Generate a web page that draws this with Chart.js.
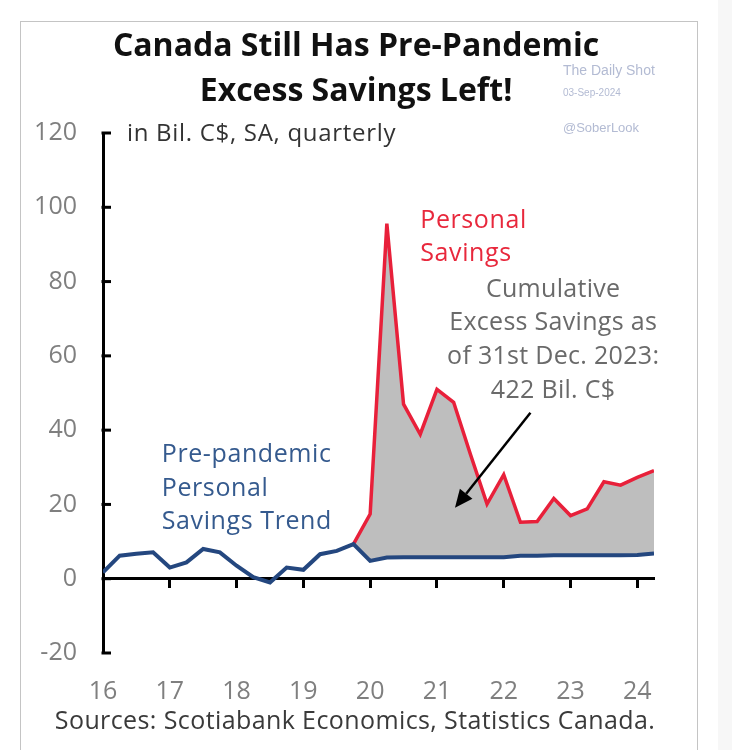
<!DOCTYPE html>
<html><head><meta charset="utf-8">
<script src="https://cdn.jsdelivr.net/npm/chart.js@4.4.1/dist/chart.umd.min.js"></script>
<style>
html,body{margin:0;padding:0;background:#fff;width:732px;height:750px;overflow:hidden;}
#side{position:absolute;left:718px;top:0;width:14px;height:750px;background:#f7f7f7;}
#frame{position:absolute;left:20px;top:21px;width:678px;height:760px;border:1.5px solid #c4c4c4;box-sizing:border-box;}
#wrap{position:absolute;left:0;top:0;width:732px;height:750px;}
</style></head><body>
<div id="side"></div><div id="frame"></div>
<div id="wrap"><canvas id="c" width="732" height="750"></canvas></div>
<script>
// ---- data (C$ billions, SA, quarterly) ----
const quarters = ['2016Q1','2016Q2','2016Q3','2016Q4','2017Q1','2017Q2','2017Q3','2017Q4',
  '2018Q1','2018Q2','2018Q3','2018Q4','2019Q1','2019Q2','2019Q3','2019Q4',
  '2020Q1','2020Q2','2020Q3','2020Q4','2021Q1','2021Q2','2021Q3','2021Q4',
  '2022Q1','2022Q2','2022Q3','2022Q4','2023Q1','2023Q2','2023Q3','2023Q4',
  '2024Q1','2024Q2'];
const prePandemicTrend = [1.7, 6.2, 6.7, 7.1, 3.0, 4.4, 8.0, 7.1,
  3.5, 0.4, -1.0, 3.0, 2.4, 6.6, 7.5, 9.3,
  4.8, 5.7, 5.8, 5.8, 5.8, 5.8, 5.8, 5.8,
  5.8, 6.2, 6.2, 6.3, 6.3, 6.3, 6.3, 6.3,
  6.4, 6.8];
const personalSavings = [null, null, null, null, null, null, null, null,
  null, null, null, null, null, null, null, 9.3,
  17.4, 95.6, 47.0, 38.9, 51.0, 47.5, 33.6, 20.1,
  28.0, 15.2, 15.4, 21.6, 17.0, 18.8, 26.1, 25.2,
  27.3, 29.1];
const yearTicks = [2016, 2017, 2018, 2019, 2020, 2021, 2022, 2023, 2024];
const yearLabels = ['16', '17', '18', '19', '20', '21', '22', '23', '24'];
const valueTicks = [-20, 0, 20, 40, 60, 80, 100, 120];

// annotations (anchored in data coordinates)
const trendNote = ['Pre-pandemic', 'Personal', 'Savings Trend'];
const savingsNote = ['Personal', 'Savings'];
const excessNote = ['Cumulative', 'Excess Savings as', 'of 31st Dec. 2023:', '422 Bil. C$'];

const toX = q => +q.slice(0, 4) + (+q.slice(5) - 1) / 4;
const xs = quarters.map(toX);

const decor = {
  id: 'decor',
  afterDraw(chart) {
    const ctx = chart.ctx, X = chart.scales.x, Y = chart.scales.y;
    ctx.save();
    // inward ticks on y axis
    ctx.strokeStyle = '#000'; ctx.lineWidth = 3;
    valueTicks.forEach(v => {
      const py = Y.getPixelForValue(v);
      ctx.beginPath(); ctx.moveTo(X.left - 1.5, py); ctx.lineTo(X.left + 8, py); ctx.stroke();
    });
    const txt = (s, x, y, font, color, align, ls) => {
      ctx.font = font; ctx.fillStyle = color; ctx.textAlign = align; ctx.textBaseline = 'middle';
      ctx.letterSpacing = ls || '0px';
      ctx.fillText(s, x, y);
    };
    // title
    txt('Canada Still Has Pre-Pandemic', 356, 47, 'bold 32px "Open Sans"', '#111', 'center', '0px');
    txt('Excess Savings Left!', 356, 92, 'bold 32px "Open Sans"', '#111', 'center', '0px');
    // unit
    txt('in Bil. C$, SA, quarterly', 127, 134, '24px "Open Sans"', '#333', 'left', '0.7px');
    // watermark
    txt('The Daily Shot', 563, 71, '14px "Liberation Sans"', '#b3bbd3', 'left');
    txt('03-Sep-2024', 563, 93, '10px "Liberation Sans"', '#b3bbd3', 'left');
    txt('@SoberLook', 563, 128, '13px "Liberation Sans"', '#b3bbd3', 'left');
    // source
    txt('Sources: Scotiabank Economics, Statistics Canada.', 355, 722, '25px "Open Sans"', '#3a3a3a', 'center', '0.4px');
    // notes
    const f = '25px "Open Sans"';
    const trendY = [33.4, 24.2, 15.3];
    trendNote.forEach((s, i) => txt(s, X.getPixelForValue(2016.88), Y.getPixelForValue(trendY[i]), f, '#355a8e', 'left', '0.6px'));
    const savY = [96.4, 87.5];
    savingsNote.forEach((s, i) => txt(s, X.getPixelForValue(2020.75), Y.getPixelForValue(savY[i]), f, '#e8283c', 'left', '0.6px'));
    const exY = [77.8, 68.9, 59.8, 50.6];
    excessNote.forEach((s, i) => txt(s, X.getPixelForValue(2022.74), Y.getPixelForValue(exY[i]), f, '#6a6a6a', 'center', '0.3px'));
    // arrow
    const x1 = X.getPixelForValue(2022.40), y1 = Y.getPixelForValue(44.7);
    const x2 = X.getPixelForValue(2021.27), y2 = Y.getPixelForValue(19.1);
    const ang = Math.atan2(y2 - y1, x2 - x1), head = 18, hw = 8;
    const bx = x2 - head * Math.cos(ang), by = y2 - head * Math.sin(ang);
    ctx.strokeStyle = '#000'; ctx.lineWidth = 2.5;
    ctx.beginPath(); ctx.moveTo(x1, y1); ctx.lineTo(bx, by); ctx.stroke();
    ctx.fillStyle = '#000';
    ctx.beginPath(); ctx.moveTo(x2, y2);
    ctx.lineTo(bx + hw * Math.sin(ang), by - hw * Math.cos(ang));
    ctx.lineTo(bx - hw * Math.sin(ang), by + hw * Math.cos(ang));
    ctx.closePath(); ctx.fill();
    ctx.restore();
  }
};

const setYears = s => { s.ticks = yearTicks.map(v => ({ value: v })); };

new Chart(document.getElementById('c'), {
  type: 'line',
  data: {
    datasets: [
      { label: 'Pre-pandemic Personal Savings Trend', data: xs.map((x, i) => ({ x, y: prePandemicTrend[i] })),
        borderColor: '#24477f', borderWidth: 4, pointRadius: 0, fill: false, order: 1, tension: 0 },
      { label: 'Personal Savings', data: xs.map((x, i) => ({ x, y: personalSavings[i] })),
        borderColor: '#e8203a', borderWidth: 3.5, pointRadius: 0, order: 2, tension: 0,
        fill: { target: 0 }, backgroundColor: '#bebebe' }
    ]
  },
  options: {
    responsive: false, animation: false, devicePixelRatio: 1,
    layout: { padding: { left: 0, top: 133, right: 78, bottom: 0 } },
    plugins: { legend: { display: false }, tooltip: { enabled: false }, title: { display: false } },
    scales: {
      x: { type: 'linear', position: { y: 0 }, min: 2016, max: 2024.25,
        afterBuildTicks: setYears,
        ticks: { color: 'rgba(0,0,0,0)', autoSkip: false, maxRotation: 0 },
        grid: { drawOnChartArea: false, drawTicks: true, tickLength: 8, tickWidth: 3, tickColor: '#000', color: '#000' },
        border: { display: true, color: '#000', width: 3 } },
      xb: { type: 'linear', axis: 'x', position: 'bottom', min: 2016, max: 2024.25,
        afterBuildTicks: setYears,
        afterFit: s => { s.height = 97; },
        ticks: { callback: v => yearLabels[yearTicks.indexOf(v)], color: '#7f7f7f', padding: 24,
          font: { family: 'Open Sans', size: 25 }, autoSkip: false, maxRotation: 0 },
        grid: { display: false, drawTicks: false }, border: { display: false } },
      y: { type: 'linear', position: 'left', min: -20, max: 120,
        afterBuildTicks: s => { s.ticks = valueTicks.map(v => ({ value: v })); },
        afterFit: s => { s.width = 103; },
        ticks: { color: '#7f7f7f', padding: 26, font: { family: 'Open Sans', size: 25 } },
        grid: { display: false, drawTicks: false },
        border: { display: true, color: '#000', width: 3 } }
    }
  },
  plugins: [decor]
});
</script>
</body></html>
